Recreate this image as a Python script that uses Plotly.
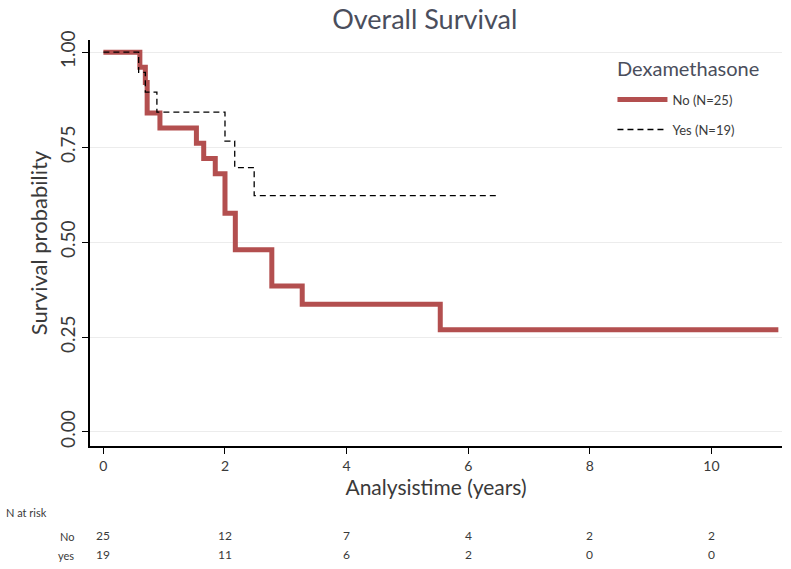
import plotly.graph_objects as go

# Kaplan-Meier step data
no_time = [0, 0.60, 0.69, 0.72, 0.93, 1.53, 1.65, 1.84, 2.00, 2.17, 2.77, 3.27, 5.54, 11.1]
no_surv = [1.0, 0.96, 0.92, 0.84, 0.80, 0.76, 0.72, 0.68, 0.576, 0.48, 0.384, 0.336, 0.269, 0.269]
yes_time = [0, 0.58, 0.69, 0.88, 2.00, 2.16, 2.48, 6.5]
yes_surv = [1.0, 0.947, 0.895, 0.842, 0.766, 0.696, 0.622, 0.622]

risk_times = [0, 2, 4, 6, 8, 10]
risk_no = [25, 12, 7, 4, 2, 2]
risk_yes = [19, 11, 6, 2, 0, 0]
y_ticks = [0.0, 0.25, 0.5, 0.75, 1.0]
x_ticks = [0, 2, 4, 6, 8, 10]

FONT = "Lato, 'Open Sans', sans-serif"
TXT = "#3a3a3a"
TITLE_C = "#4a4e5c"

fig = go.Figure()
fig.add_trace(go.Scatter(x=no_time, y=no_surv, mode="lines", line_shape="hv",
                         line=dict(color="#b34f4f", width=5), name="No (N=25)",
                         legendgroup="no"))
fig.add_trace(go.Scatter(x=yes_time, y=yes_surv, mode="lines", line_shape="hv",
                         line=dict(color="black", width=1.3, dash="6px,4px"), name="Yes (N=19)",
                         legendgroup="yes"))

fig.update_layout(
    width=791, height=569,
    margin=dict(l=90, r=9, t=40, b=123),
    paper_bgcolor="white", plot_bgcolor="white",
    font=dict(family=FONT, color=TXT),
    title=dict(text="Overall Survival", x=0.537, xanchor="center", y=0.966, yanchor="middle",
               font=dict(size=27, color=TITLE_C, family=FONT)),
    showlegend=True,
    legend=dict(x=0.755, y=0.89, xanchor="left", yanchor="top",
                font=dict(size=13, color=TXT), bgcolor="rgba(255,255,255,0)",
                itemwidth=50, tracegroupgap=10),
    xaxis=dict(range=[-0.22, 11.16], tickvals=x_ticks, ticks="outside", ticklen=6,
               tickcolor="black", showline=True, linecolor="black", linewidth=1.5,
               showgrid=False, zeroline=False, tickfont=dict(size=14, color=TXT),
               title=dict(text="Analysistime (years)", font=dict(size=21, color=TXT), standoff=4)),
    yaxis=dict(range=[-0.037, 1.032], tickvals=y_ticks, tickformat=".2f", ticks="outside",
               ticklen=6, tickcolor="black", showline=True, linecolor="black", linewidth=1.5,
               showgrid=True, gridcolor="#ececec", zeroline=False, tickangle=-90,
               tickfont=dict(size=19, color=TXT),
               title=dict(text="Survival probability", font=dict(size=22, color=TXT), standoff=2)),
)

# Legend title
fig.add_annotation(text="Dexamethasone", xref="paper", x=0.759, yref="paper", y=0.931,
                   xanchor="left", yanchor="middle", showarrow=False,
                   font=dict(size=20, color=TITLE_C))

# Number-at-risk table
fig.add_annotation(text="N at risk", xref="paper", x=-0.125, yref="paper", y=-0.185,
                   showarrow=False, xanchor="left", font=dict(size=11, color=TXT))
fig.add_annotation(text="No", xref="paper", x=-0.02, yref="paper", y=-0.244,
                   showarrow=False, xanchor="right", font=dict(size=11, color=TXT))
fig.add_annotation(text="yes", xref="paper", x=-0.02, yref="paper", y=-0.291,
                   showarrow=False, xanchor="right", font=dict(size=11, color=TXT))
for t, a, b in zip(risk_times, risk_no, risk_yes):
    fig.add_annotation(text=str(a), x=t, xref="x", yref="paper", y=-0.244, showarrow=False,
                       font=dict(size=12, color=TXT))
    fig.add_annotation(text=str(b), x=t, xref="x", yref="paper", y=-0.291, showarrow=False,
                       font=dict(size=12, color=TXT))

fig.write_html("out.html")
